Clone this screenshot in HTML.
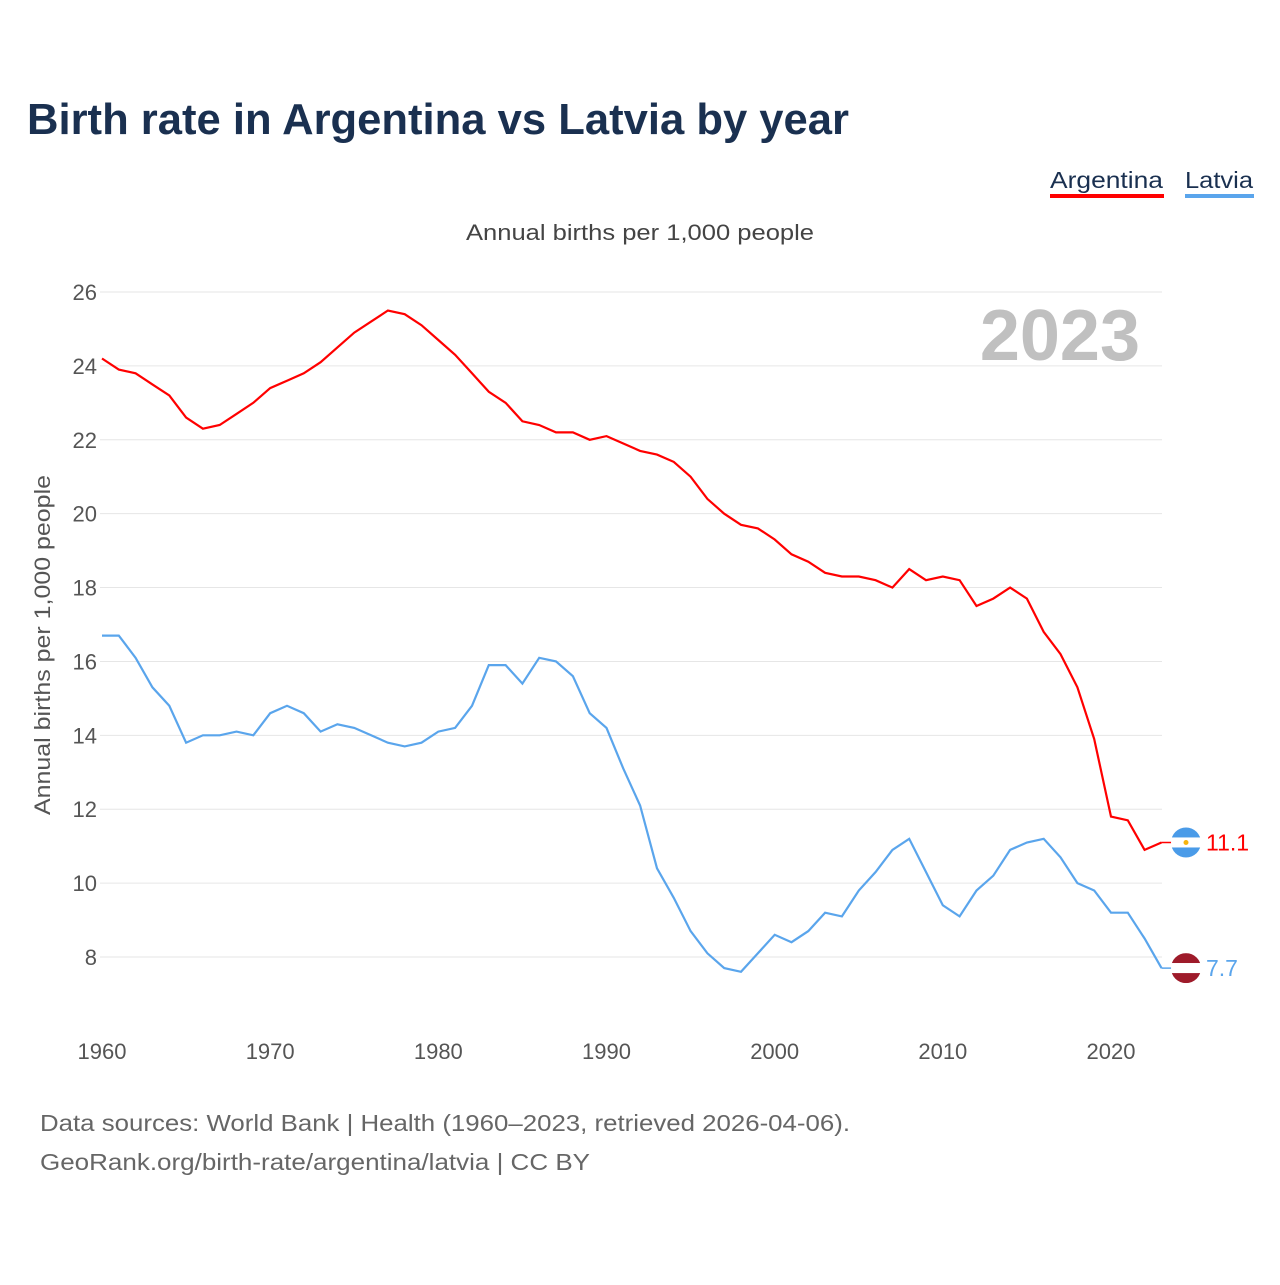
<!DOCTYPE html>
<html><head><meta charset="utf-8"><style>
body{margin:0;background:#fff;font-family:"Liberation Sans",sans-serif}
svg text{font-family:"Liberation Sans",sans-serif}
</style></head><body>
<svg id="c" width="1280" height="1280" viewBox="0 0 1280 1280">
<text x="27" y="134" font-size="44" font-weight="bold" fill="#1a3050" textLength="822" lengthAdjust="spacingAndGlyphs">Birth rate in Argentina vs Latvia by year</text>
<g><text x="1050" y="188" font-size="23" fill="#1a3050" textLength="113" lengthAdjust="spacingAndGlyphs">Argentina</text><rect x="1050" y="194" width="114" height="4" fill="#ff0000"/></g>
<g><text x="1185" y="188" font-size="23" fill="#1a3050" textLength="68" lengthAdjust="spacingAndGlyphs">Latvia</text><rect x="1185" y="194" width="69" height="4" fill="#5aa5ec"/></g>
<text x="466" y="240" font-size="22" fill="#444" textLength="348" lengthAdjust="spacingAndGlyphs">Annual births per 1,000 people</text>
<text x="1140" y="360" font-size="72" font-weight="bold" fill="#c0c0c0" text-anchor="end">2023</text>
<text transform="translate(50,815) rotate(-90)" font-size="22" fill="#555" textLength="340" lengthAdjust="spacingAndGlyphs">Annual births per 1,000 people</text>
<g id="grid"></g><g id="lines"></g>
<text x="40" y="1131" font-size="23" fill="#666" textLength="810" lengthAdjust="spacingAndGlyphs">Data sources: World Bank | Health (1960–2023, retrieved 2026-04-06).</text>
<text x="40" y="1170" font-size="23" fill="#666" textLength="550" lengthAdjust="spacingAndGlyphs">GeoRank.org/birth-rate/argentina/latvia | CC BY</text>
</svg>
<script>
const years=[];for(let y=1960;y<=2023;y++)years.push(y);
const argentina=[24.2,23.9,23.8,23.5,23.2,22.6,22.3,22.4,22.7,23.0,23.4,23.6,23.8,24.1,24.5,24.9,25.2,25.5,25.4,25.1,24.7,24.3,23.8,23.3,23.0,22.5,22.4,22.2,22.2,22.0,22.1,21.9,21.7,21.6,21.4,21.0,20.4,20.0,19.7,19.6,19.3,18.9,18.7,18.4,18.3,18.3,18.2,18.0,18.5,18.2,18.3,18.2,17.5,17.7,18.0,17.7,16.8,16.2,15.3,13.9,11.8,11.7,10.9,11.1];
const latvia=[16.7,16.7,16.1,15.3,14.8,13.8,14.0,14.0,14.1,14.0,14.6,14.8,14.6,14.1,14.3,14.2,14.0,13.8,13.7,13.8,14.1,14.2,14.8,15.9,15.9,15.4,16.1,16.0,15.6,14.6,14.2,13.1,12.1,10.4,9.6,8.7,8.1,7.7,7.6,8.1,8.6,8.4,8.7,9.2,9.1,9.8,10.3,10.9,11.2,10.3,9.4,9.1,9.8,10.2,10.9,11.1,11.2,10.7,10.0,9.8,9.2,9.2,8.5,7.7];
const yTicks=[8,10,12,14,16,18,20,22,24,26];
const xTicks=[1960,1970,1980,1990,2000,2010,2020];
const X=v=>102+(v-1960)*(1111-102)/60;
const Y=v=>957-(v-8)*(957-292)/18;
const NS='http://www.w3.org/2000/svg';
function mk(t,a,p){const e=document.createElementNS(NS,t);for(const k in a)e.setAttribute(k,a[k]);p.appendChild(e);return e;}
const g=document.getElementById('grid'),L=document.getElementById('lines');
yTicks.forEach(v=>{
 const l=mk('line',{x1:100,x2:1162,y1:Y(v),y2:Y(v),stroke:'#e6e6e6','stroke-width':1},g);
 
 
 const t=mk('text',{x:97,y:Y(v)+8,'font-size':22,fill:'#555','text-anchor':'end'},g);t.textContent=v;
 
 
});
xTicks.forEach(v=>{
 const t=mk('text',{x:X(v),y:1059,'font-size':22,fill:'#555','text-anchor':'middle'},g);t.textContent=v;
 
 
});
function line(data,color,name){
 const p=mk('path',{d:data.map((v,i)=>(i?'L':'M')+X(years[i]).toFixed(1)+','+Y(v).toFixed(1)).join(''),fill:'none',stroke:color,'stroke-width':2.2},L);
 
 
}
line(argentina,'#ff0000','argentina-line');
line(latvia,'#5aa5ec','latvia-line');
function flag(v,c1,c2,c3,name,color){
 const cy=Y(v),cx=1186;
 mk('line',{x1:X(2023),x2:cx,y1:cy,y2:cy,stroke:color,'stroke-width':1.5},L);
 const gg=mk('g',{},L);
 
 
 const id='cl'+name;
 const cp=mk('clipPath',{id:id},gg);mk('circle',{cx:cx,cy:cy,r:15},cp);
 const gi=mk('g',{'clip-path':'url(#'+id+')'},gg);
 mk('rect',{x:cx-15,y:cy-15,width:30,height:10,fill:c1},gi);
 mk('rect',{x:cx-15,y:cy-5,width:30,height:10,fill:c2},gi);
 mk('rect',{x:cx-15,y:cy+5,width:30,height:10,fill:c3},gi);
 if(name==='argentina')mk('circle',{cx:cx,cy:cy,r:2.5,fill:'#f6b40e'},gi);
 const t=mk('text',{x:1206,y:cy+8,'font-size':23,fill:color},L);t.textContent=v;
 
 
}
flag(argentina[argentina.length-1],'#4a9be8','#fff','#4a9be8','argentina','#ff0000');
flag(latvia[latvia.length-1],'#9e1b2a','#fff','#9e1b2a','latvia','#5aa5ec');
</script>
</body></html>
